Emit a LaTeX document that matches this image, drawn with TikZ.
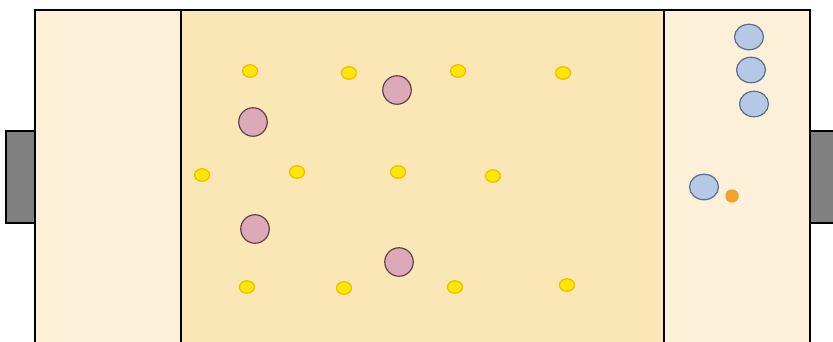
\documentclass[tikz,border=0pt]{standalone}
\usetikzlibrary{shapes.geometric}
\begin{document}
\begin{tikzpicture}[x=1pt,y=-1pt,
  frame/.style={draw=black,line width=2.8pt},
  tab/.style={draw=black,line width=2.8pt,fill=tabgray},
  ydot/.style={ellipse,draw=ydotline,fill=ydotfill,line width=1.3pt,minimum width=15pt,minimum height=12.5pt,inner sep=0pt},
  pball/.style={circle,draw=pballline,fill=pballfill,line width=1.2pt,minimum size=28.5pt,inner sep=0pt},
  bball/.style={ellipse,draw=bballline,fill=bballfill,line width=1.2pt,minimum width=29pt,minimum height=25.5pt,inner sep=0pt},
  oball/.style={circle,fill=oballfill,draw=oballline,line width=0.6pt,minimum size=12.5pt,inner sep=0pt}]
\definecolor{sidefill}{HTML}{FDF0D8}
\definecolor{midfill}{HTML}{FBE6B6}
\definecolor{tabgray}{HTML}{808080}
\definecolor{ydotfill}{HTML}{FFE800}
\definecolor{ydotline}{HTML}{EFC000}
\definecolor{pballfill}{HTML}{DCA9B8}
\definecolor{pballline}{HTML}{5E4545}
\definecolor{bballfill}{HTML}{B5C8E6}
\definecolor{bballline}{HTML}{56708E}
\definecolor{oballfill}{HTML}{F5A12A}
\definecolor{oballline}{HTML}{EE9020}
\useasboundingbox (0,0) rectangle (833,341);
% side tabs
\draw[tab] (6,131) rectangle (35,223);
\draw[tab] (810,131) rectangle (840,223);
% field
\fill[sidefill] (35,10) rectangle (181,350);
\fill[midfill] (181,10) rectangle (664,350);
\fill[sidefill] (664,10) rectangle (810,350);
\draw[frame] (35,350) -- (35,10) -- (810,10) -- (810,350);
\draw[frame] (181,10) -- (181,350);
\draw[frame] (664,10) -- (664,350);
% yellow dots
\node[ydot] (y1) at (250,71) {};
\node[ydot] (y2) at (349,73) {};
\node[ydot] (y3) at (458,71) {};
\node[ydot] (y4) at (563,73) {};
\node[ydot] (y5) at (202,175) {};
\node[ydot] (y6) at (297,172) {};
\node[ydot] (y7) at (398,172) {};
\node[ydot] (y8) at (493,176) {};
\node[ydot] (y9) at (247,287) {};
\node[ydot] (y10) at (344,288) {};
\node[ydot] (y11) at (455,287) {};
\node[ydot] (y12) at (567,285) {};
% pink balls
\node[pball] (p1) at (397,90) {};
\node[pball] (p2) at (253,122) {};
\node[pball] (p3) at (255,229) {};
\node[pball] (p4) at (399,262) {};
% blue balls
\node[bball] (b1) at (749,37) {};
\node[bball] (b2) at (751,70) {};
\node[bball] (b3) at (754,104) {};
\node[bball] (b4) at (704,187) {};
% orange ball
\node[oball] (o1) at (732,196) {};
\end{tikzpicture}
\end{document}
